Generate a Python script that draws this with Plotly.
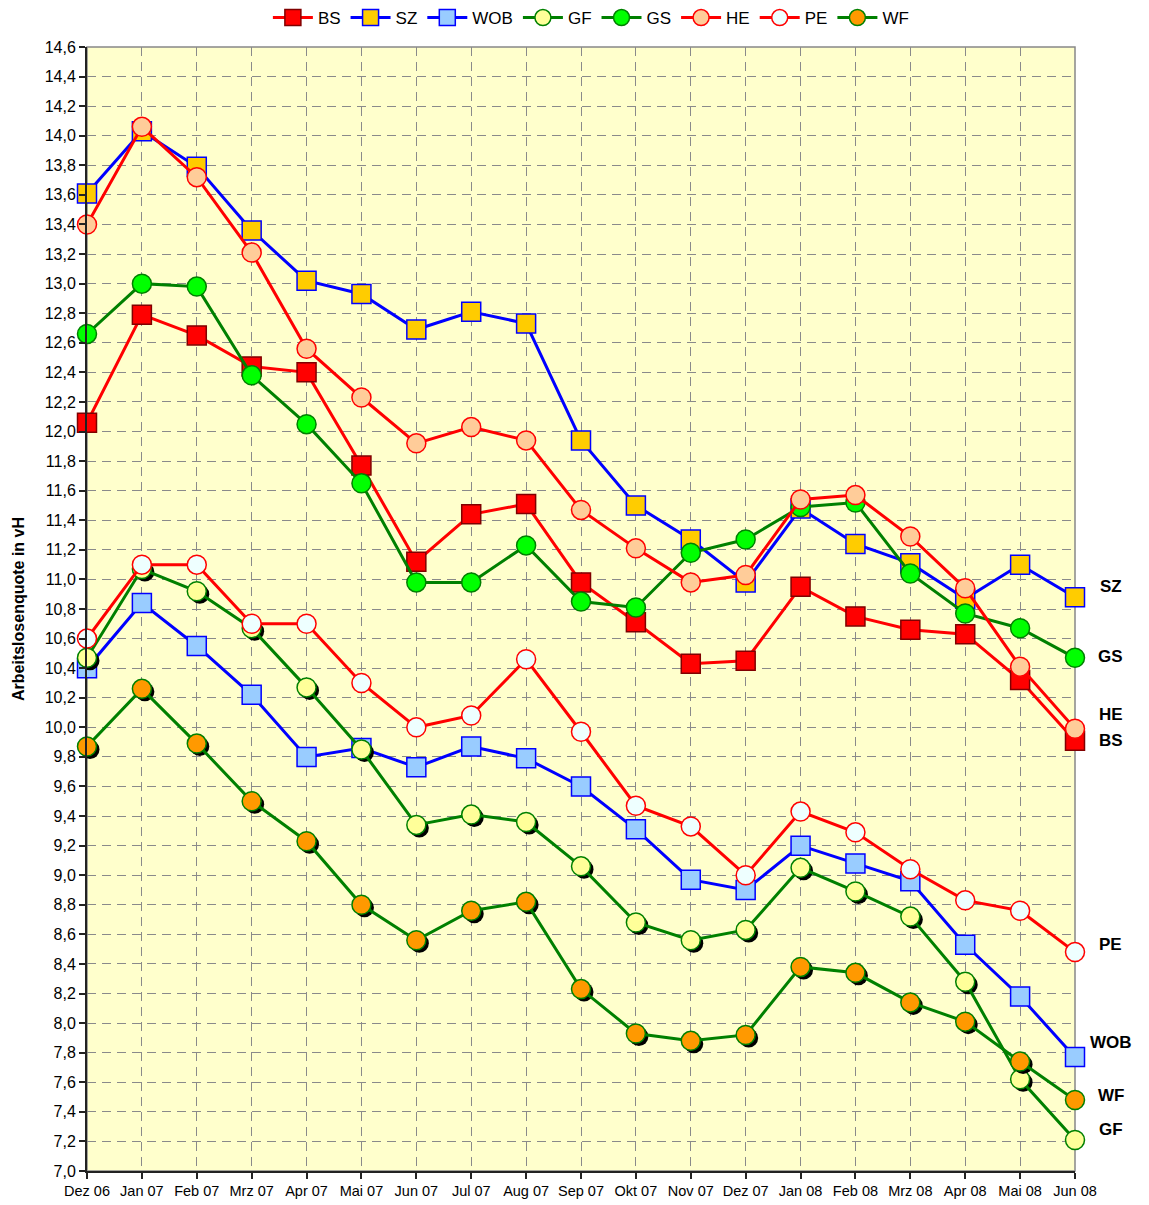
import plotly.graph_objects as go

months = ["Dez 06", "Jan 07", "Feb 07", "Mrz 07", "Apr 07", "Mai 07", "Jun 07", "Jul 07",
          "Aug 07", "Sep 07", "Okt 07", "Nov 07", "Dez 07", "Jan 08", "Feb 08", "Mrz 08",
          "Apr 08", "Mai 08", "Jun 08"]

BS = [12.06, 12.79, 12.65, 12.44, 12.40, 11.77, 11.12, 11.44, 11.51, 10.98, 10.71, 10.43,
      10.45, 10.95, 10.75, 10.66, 10.63, 10.32, 9.91]
SZ = [13.61, 14.03, 13.79, 13.36, 13.02, 12.93, 12.69, 12.81, 12.73, 11.94, 11.50, 11.27,
      10.98, 11.48, 11.24, 11.11, 10.87, 11.10, 10.88]
WOB = [10.40, 10.84, 10.55, 10.22, 9.80, 9.86, 9.73, 9.87, 9.79, 9.60, 9.31, 8.97,
       8.90, 9.20, 9.08, 8.96, 8.53, 8.18, 7.77]
GF = [10.47, 11.07, 10.92, 10.67, 10.27, 9.85, 9.34, 9.41, 9.36, 9.06, 8.68, 8.56,
      8.63, 9.05, 8.89, 8.72, 8.28, 7.62, 7.21]
GS = [12.66, 13.00, 12.98, 12.38, 12.05, 11.65, 10.98, 10.98, 11.23, 10.85, 10.81, 11.18,
      11.27, 11.49, 11.52, 11.04, 10.77, 10.67, 10.47]
HE = [13.40, 14.06, 13.72, 13.21, 12.56, 12.23, 11.92, 12.03, 11.94, 11.47, 11.21, 10.98,
      11.03, 11.54, 11.57, 11.29, 10.94, 10.41, 9.99]
PE = [10.60, 11.10, 11.10, 10.70, 10.70, 10.30, 10.00, 10.08, 10.46, 9.97, 9.47, 9.33,
      9.00, 9.43, 9.29, 9.04, 8.83, 8.76, 8.48]
WF = [9.87, 10.26, 9.89, 9.50, 9.23, 8.80, 8.56, 8.76, 8.82, 8.23, 7.93, 7.88,
      7.92, 8.38, 8.34, 8.14, 8.01, 7.74, 7.48]

end_labels = ["SZ", "GS", "HE", "BS", "PE", "WOB", "WF", "GF"]
end_label_y = [10.95, 10.48, 10.09, 9.91, 8.53, 7.87, 7.51, 7.28]

y_title = "Arbeitslosenquote in vH"

RED = "#FF0000"
BLUE = "#0000FF"
GREEN = "#008000"

# name, values, symbol, line colour, fill, border, axis layer, shadow
series = [
    ("BS", BS, "square", RED, "#FF0000", "#800000", 1, False),
    ("SZ", SZ, "square", BLUE, "#FFCC00", BLUE, 1, False),
    ("WOB", WOB, "square", BLUE, "#99CCFF", BLUE, 1, False),
    ("GF", GF, "circle", GREEN, "#FFFF99", GREEN, 3, True),
    ("GS", GS, "circle", GREEN, "#00FF00", GREEN, 3, False),
    ("HE", HE, "circle", RED, "#FFCC99", RED, 3, False),
    ("PE", PE, "circle", RED, "#EEFFFF", RED, 3, False),
    ("WF", WF, "circle", GREEN, "#FF9900", GREEN, 5, True),
]

fig = go.Figure()

def axid(n):
    return ("x", "y") if n == 1 else ("x%d" % n, "y%d" % n)

rank = 0
for name, vals, sym, lc, fc, bc, layer, shadow in series:
    if shadow:
        xa, ya = axid(layer - 1)
        fig.add_trace(go.Scatter(
            x=months, y=vals, mode="markers", xaxis=xa, yaxis=ya,
            marker=dict(symbol="circle", size=19, color="#000000",
                        line=dict(width=0)),
            showlegend=False, hoverinfo="skip", cliponaxis=False))
    xa, ya = axid(layer)
    rank += 1
    fig.add_trace(go.Scatter(
        x=months, y=vals, mode="lines+markers", name=name, xaxis=xa, yaxis=ya,
        line=dict(color=lc, width=3), legendrank=rank,
        marker=dict(symbol=sym, size=19, color=fc, line=dict(color=bc, width=1.5)),
        cliponaxis=False))

XR = [0, 18]
YR = [7.0, 14.6]
dx = 3 / 54.9   # shadow offset (~3 px)
dy = 3 / 147.9

layout = dict(
    width=1149, height=1205,
    margin=dict(l=87, r=74, t=47, b=34, autoexpand=False),
    paper_bgcolor="white",
    plot_bgcolor="#FFFFCC",
    separators=",.",
    font=dict(family="Liberation Sans, Arial, sans-serif", color="#000000"),
    showlegend=True,
    legend=dict(orientation="h", x=0.51, xanchor="center", y=1.0258, yanchor="middle",
                font=dict(size=17), itemsizing="trace", itemwidth=40,
                bgcolor="rgba(0,0,0,0)", traceorder="normal"),
    xaxis=dict(type="category", categoryorder="array", categoryarray=months,
               range=XR, showgrid=True, gridcolor="#8a8a8a", griddash="9px,6px", gridwidth=1,
               showline=True, linecolor="#222222", linewidth=2,
               ticks="outside", ticklen=6, tickcolor="#222222", tickwidth=1.5,
               tickfont=dict(size=14.5), zeroline=False),
    yaxis=dict(range=YR, dtick=0.2, tick0=7.0, tickformat=".1f",
               showgrid=True, gridcolor="#8a8a8a", griddash="9px,6px", gridwidth=1,
               showline=True, linecolor="#222222", linewidth=2,
               ticks="outside", ticklen=6, tickcolor="#222222", tickwidth=1.5,
               tickfont=dict(size=16), zeroline=False,
               title=dict(text="<b>" + y_title + "</b>", font=dict(size=16), standoff=16)),
    shapes=[dict(type="rect", xref="paper", yref="paper", x0=0, x1=1, y0=0, y1=1,
                 line=dict(color="#888888", width=1.5), layer="below")],
)

for n in (2, 3, 4, 5):
    shift = n in (2, 4)
    layout["xaxis%d" % n] = dict(type="category", categoryorder="array", categoryarray=months,
                                 overlaying="x", visible=False, showgrid=False,
                                 range=[XR[0] - dx, XR[1] - dx] if shift else XR)
    layout["yaxis%d" % n] = dict(overlaying="y", visible=False, showgrid=False,
                                 range=[YR[0] + dy, YR[1] + dy] if shift else YR)

annotations = []
for lab, yv in zip(end_labels, end_label_y):
    annotations.append(dict(text="<b>" + lab + "</b>", xref="paper", yref="y",
                            x=1.036, y=yv, xanchor="center", yanchor="middle",
                            showarrow=False, font=dict(size=17)))
layout["annotations"] = annotations

fig.update_layout(**layout)
fig.write_html("out.html", config={"displayModeBar": False},
               post_script="document.body.style.margin='0';document.body.style.overflow='hidden';")
